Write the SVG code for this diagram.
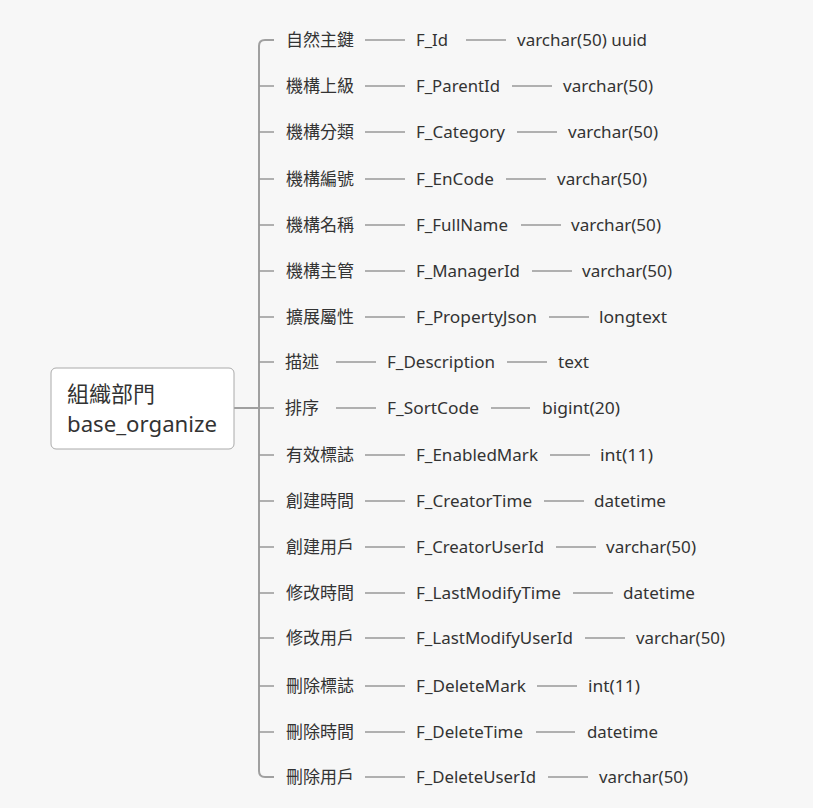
<svg xmlns="http://www.w3.org/2000/svg" width="813" height="808" viewBox="0 0 813 808">
<style>
.bg{fill:#f7f7f7}
.t{font-family:"Segoe UI","Noto Sans","Noto Sans CJK TC",sans-serif;font-size:17px;fill:#333}
.c{font-family:"Noto Sans CJK TC","Noto Sans",sans-serif;font-size:17px;fill:#333}
.root{font-family:"Segoe UI","Noto Sans","Noto Sans CJK TC",sans-serif;font-size:22px;fill:#333}
.ln{stroke:#999;stroke-width:1.5;fill:none}
.sp{stroke:#a0a0a0;stroke-width:2;fill:none}
</style>
<rect class="bg" x="0" y="0" width="813" height="808"/>
<g id="connectors">
<path class="sp" d="M234,408 H259"/>
<path class="sp" d="M274,40 H265 Q259,40 259,46 V771 Q259,777 265,777 H274"/>
<path class="ln" d="M259,86 H274 M259,132 H274 M259,179 H274 M259,225 H274 M259,271 H274 M259,317 H274 M259,362 H274 M259,408 H274 M259,455 H274 M259,501 H274 M259,547 H274 M259,593 H274 M259,638 H274 M259,686 H274 M259,732 H274"/>
<path class="ln" d="M365,40 H405 M466,40 H506
M365,86 H405 M512,86 H552
M365,132 H405 M517,132 H557
M365,179 H405 M506,179 H546
M365,225 H405 M521,225 H561
M365,271 H405 M532,271 H572
M365,317 H405 M549,317 H589
M336,362 H376 M507,362 H547
M336,408 H376 M491,408 H530
M365,455 H405 M550,455 H590
M365,501 H405 M544,501 H584
M365,547 H405 M556,547 H596
M365,593 H405 M573,593 H613
M365,638 H405 M585,638 H625
M365,686 H405 M537,686 H577
M365,732 H405 M536,732 H575
M365,777 H405 M548,777 H588"/>
</g>
<g id="root">
<rect x="51" y="368" width="183" height="81" rx="5" fill="#fff" stroke="#aaa" stroke-width="1"/>
<text class="root" x="67" y="402" textLength="88" lengthAdjust="spacingAndGlyphs">組織部門</text>
<text class="root" x="67" y="432" textLength="150" lengthAdjust="spacingAndGlyphs">base_organize</text>
</g>
<g id="row1"><text class="c" x="286" y="46">自然主鍵</text><text class="t" x="416" y="46" textLength="32" lengthAdjust="spacingAndGlyphs">F_Id</text><text class="t" x="517" y="46" textLength="130" lengthAdjust="spacingAndGlyphs">varchar(50) uuid</text></g>
<g id="row2"><text class="c" x="286" y="92">機構上級</text><text class="t" x="416" y="92" textLength="84" lengthAdjust="spacingAndGlyphs">F_ParentId</text><text class="t" x="563" y="92" textLength="90" lengthAdjust="spacingAndGlyphs">varchar(50)</text></g>
<g id="row3"><text class="c" x="286" y="138">機構分類</text><text class="t" x="416" y="138" textLength="89" lengthAdjust="spacingAndGlyphs">F_Category</text><text class="t" x="568" y="138" textLength="90" lengthAdjust="spacingAndGlyphs">varchar(50)</text></g>
<g id="row4"><text class="c" x="286" y="185">機構編號</text><text class="t" x="416" y="185" textLength="78" lengthAdjust="spacingAndGlyphs">F_EnCode</text><text class="t" x="557" y="185" textLength="90" lengthAdjust="spacingAndGlyphs">varchar(50)</text></g>
<g id="row5"><text class="c" x="286" y="231">機構名稱</text><text class="t" x="416" y="231" textLength="92" lengthAdjust="spacingAndGlyphs">F_FullName</text><text class="t" x="571" y="231" textLength="90" lengthAdjust="spacingAndGlyphs">varchar(50)</text></g>
<g id="row6"><text class="c" x="286" y="277">機構主管</text><text class="t" x="416" y="277" textLength="104" lengthAdjust="spacingAndGlyphs">F_ManagerId</text><text class="t" x="582" y="277" textLength="90" lengthAdjust="spacingAndGlyphs">varchar(50)</text></g>
<g id="row7"><text class="c" x="286" y="323">擴展屬性</text><text class="t" x="416" y="323" textLength="121" lengthAdjust="spacingAndGlyphs">F_PropertyJson</text><text class="t" x="599" y="323" textLength="68" lengthAdjust="spacingAndGlyphs">longtext</text></g>
<g id="row8"><text class="c" x="285" y="368">描述</text><text class="t" x="387" y="368" textLength="108" lengthAdjust="spacingAndGlyphs">F_Description</text><text class="t" x="558" y="368" textLength="31" lengthAdjust="spacingAndGlyphs">text</text></g>
<g id="row9"><text class="c" x="285" y="414">排序</text><text class="t" x="387" y="414" textLength="92" lengthAdjust="spacingAndGlyphs">F_SortCode</text><text class="t" x="542" y="414" textLength="78" lengthAdjust="spacingAndGlyphs">bigint(20)</text></g>
<g id="row10"><text class="c" x="286" y="461">有效標誌</text><text class="t" x="416" y="461" textLength="122" lengthAdjust="spacingAndGlyphs">F_EnabledMark</text><text class="t" x="600" y="461" textLength="53" lengthAdjust="spacingAndGlyphs">int(11)</text></g>
<g id="row11"><text class="c" x="286" y="507">創建時間</text><text class="t" x="416" y="507" textLength="116" lengthAdjust="spacingAndGlyphs">F_CreatorTime</text><text class="t" x="594" y="507" textLength="72" lengthAdjust="spacingAndGlyphs">datetime</text></g>
<g id="row12"><text class="c" x="286" y="553">創建用戶</text><text class="t" x="416" y="553" textLength="128" lengthAdjust="spacingAndGlyphs">F_CreatorUserId</text><text class="t" x="606" y="553" textLength="90" lengthAdjust="spacingAndGlyphs">varchar(50)</text></g>
<g id="row13"><text class="c" x="286" y="599">修改時間</text><text class="t" x="416" y="599" textLength="145" lengthAdjust="spacingAndGlyphs">F_LastModifyTime</text><text class="t" x="623" y="599" textLength="72" lengthAdjust="spacingAndGlyphs">datetime</text></g>
<g id="row14"><text class="c" x="286" y="644">修改用戶</text><text class="t" x="416" y="644" textLength="157" lengthAdjust="spacingAndGlyphs">F_LastModifyUserId</text><text class="t" x="636" y="644" textLength="89" lengthAdjust="spacingAndGlyphs">varchar(50)</text></g>
<g id="row15"><text class="c" x="286" y="692">刪除標誌</text><text class="t" x="416" y="692" textLength="110" lengthAdjust="spacingAndGlyphs">F_DeleteMark</text><text class="t" x="588" y="692" textLength="52" lengthAdjust="spacingAndGlyphs">int(11)</text></g>
<g id="row16"><text class="c" x="286" y="738">刪除時間</text><text class="t" x="416" y="738" textLength="107" lengthAdjust="spacingAndGlyphs">F_DeleteTime</text><text class="t" x="587" y="738" textLength="71" lengthAdjust="spacingAndGlyphs">datetime</text></g>
<g id="row17"><text class="c" x="286" y="783">刪除用戶</text><text class="t" x="416" y="783" textLength="120" lengthAdjust="spacingAndGlyphs">F_DeleteUserId</text><text class="t" x="599" y="783" textLength="89" lengthAdjust="spacingAndGlyphs">varchar(50)</text></g>
</svg>
